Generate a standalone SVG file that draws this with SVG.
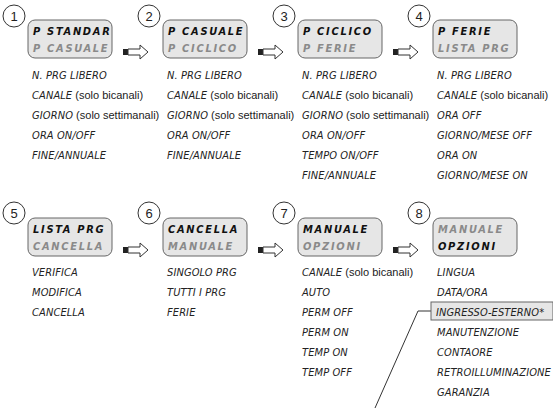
<svg xmlns="http://www.w3.org/2000/svg" width="553" height="408" viewBox="0 0 553 408">
<style>
.num{fill:#fff;stroke:#333;stroke-width:1}
.nt{font-family:"Liberation Sans",Arial,sans-serif;font-size:13px;fill:#222;text-anchor:middle}
.box{fill:#e6e6e6;stroke:#666;stroke-width:1}
.on,.off{font-family:"DejaVu Sans Condensed","DejaVu Sans",sans-serif;font-weight:bold;font-style:italic;font-size:11px;letter-spacing:1.7px}
.on{fill:#111}
.off{fill:#8a8a8a}
.it{font-family:"DejaVu Sans Condensed","DejaVu Sans",sans-serif;font-style:italic;font-size:11px;letter-spacing:0.1px;fill:#222}
.rg{font-family:"Liberation Sans",Arial,sans-serif;font-size:11px;letter-spacing:0;fill:#222}
.arr{fill:#fff;stroke:#333;stroke-width:1}
.hl{fill:#e6e6e6;stroke:#666;stroke-width:1}
.ln{fill:none;stroke:#333;stroke-width:1}
</style>
<defs>
<g id="arrow">
<rect x="0" y="-3" width="5" height="6" fill="#222"/>
<path class="arr" d="M5,-3 H17 V-7 L25,0 L17,7 V3 H5 Z"/>
</g>
</defs>
<g id="connectors">
<use href="#arrow" x="123" y="52"/>
<use href="#arrow" x="258" y="52"/>
<use href="#arrow" x="393" y="52"/>
<use href="#arrow" x="123" y="250"/>
<use href="#arrow" x="258" y="250"/>
<use href="#arrow" x="393" y="250"/>
<path class="ln" d="M431,311 H418 L375,408"/>
</g>
<g id="node1">
<rect class="box" x="28" y="20" width="84" height="38" rx="7"/>
<circle class="num" cx="14" cy="16" r="11"/>
<text class="nt" x="14" y="21">1</text>
<text class="on" x="33" y="35">P STANDAR</text>
<text class="off" x="33" y="52">P CASUALE</text>
<text class="it" x="32" y="79">N. PRG LIBERO</text>
<text x="32" y="99"><tspan class="it">CANALE</tspan><tspan class="rg"> (solo bicanali)</tspan></text>
<text x="32" y="119"><tspan class="it">GIORNO</tspan><tspan class="rg"> (solo settimanali)</tspan></text>
<text class="it" x="32" y="139">ORA ON/OFF</text>
<text class="it" x="32" y="159">FINE/ANNUALE</text>
</g>
<g id="node2">
<rect class="box" x="163" y="20" width="84" height="38" rx="7"/>
<circle class="num" cx="149" cy="16" r="11"/>
<text class="nt" x="149" y="21">2</text>
<text class="on" x="168" y="35">P CASUALE</text>
<text class="off" x="168" y="52">P CICLICO</text>
<text class="it" x="167" y="79">N. PRG LIBERO</text>
<text x="167" y="99"><tspan class="it">CANALE</tspan><tspan class="rg"> (solo bicanali)</tspan></text>
<text x="167" y="119"><tspan class="it">GIORNO</tspan><tspan class="rg"> (solo settimanali)</tspan></text>
<text class="it" x="167" y="139">ORA ON/OFF</text>
<text class="it" x="167" y="159">FINE/ANNUALE</text>
</g>
<g id="node3">
<rect class="box" x="298" y="20" width="84" height="38" rx="7"/>
<circle class="num" cx="284" cy="16" r="11"/>
<text class="nt" x="284" y="21">3</text>
<text class="on" x="303" y="35">P CICLICO</text>
<text class="off" x="303" y="52">P FERIE</text>
<text class="it" x="302" y="79">N. PRG LIBERO</text>
<text x="302" y="99"><tspan class="it">CANALE</tspan><tspan class="rg"> (solo bicanali)</tspan></text>
<text x="302" y="119"><tspan class="it">GIORNO</tspan><tspan class="rg"> (solo settimanali)</tspan></text>
<text class="it" x="302" y="139">ORA ON/OFF</text>
<text class="it" x="302" y="159">TEMPO ON/OFF</text>
<text class="it" x="302" y="179">FINE/ANNUALE</text>
</g>
<g id="node4">
<rect class="box" x="433" y="20" width="84" height="38" rx="7"/>
<circle class="num" cx="419" cy="16" r="11"/>
<text class="nt" x="419" y="21">4</text>
<text class="on" x="438" y="35">P FERIE</text>
<text class="off" x="438" y="52">LISTA PRG</text>
<text class="it" x="437" y="79">N. PRG LIBERO</text>
<text x="437" y="99"><tspan class="it">CANALE</tspan><tspan class="rg"> (solo bicanali)</tspan></text>
<text class="it" x="437" y="119">ORA OFF</text>
<text class="it" x="437" y="139">GIORNO/MESE OFF</text>
<text class="it" x="437" y="159">ORA ON</text>
<text class="it" x="437" y="179">GIORNO/MESE ON</text>
</g>
<g id="node5">
<rect class="box" x="28" y="218" width="84" height="38" rx="7"/>
<circle class="num" cx="14" cy="213" r="11"/>
<text class="nt" x="14" y="218">5</text>
<text class="on" x="33" y="233">LISTA PRG</text>
<text class="off" x="33" y="250">CANCELLA</text>
<text class="it" x="32" y="276">VERIFICA</text>
<text class="it" x="32" y="296">MODIFICA</text>
<text class="it" x="32" y="316">CANCELLA</text>
</g>
<g id="node6">
<rect class="box" x="163" y="218" width="84" height="38" rx="7"/>
<circle class="num" cx="149" cy="213" r="11"/>
<text class="nt" x="149" y="218">6</text>
<text class="on" x="168" y="233">CANCELLA</text>
<text class="off" x="168" y="250">MANUALE</text>
<text class="it" x="167" y="276">SINGOLO PRG</text>
<text class="it" x="167" y="296">TUTTI I PRG</text>
<text class="it" x="167" y="316">FERIE</text>
</g>
<g id="node7">
<rect class="box" x="298" y="218" width="84" height="38" rx="7"/>
<circle class="num" cx="284" cy="213" r="11"/>
<text class="nt" x="284" y="218">7</text>
<text class="on" x="303" y="233">MANUALE</text>
<text class="off" x="303" y="250">OPZIONI</text>
<text x="302" y="276"><tspan class="it">CANALE</tspan><tspan class="rg"> (solo bicanali)</tspan></text>
<text class="it" x="302" y="296">AUTO</text>
<text class="it" x="302" y="316">PERM OFF</text>
<text class="it" x="302" y="336">PERM ON</text>
<text class="it" x="302" y="356">TEMP ON</text>
<text class="it" x="302" y="376">TEMP OFF</text>
</g>
<g id="node8">
<rect class="box" x="433" y="218" width="84" height="38" rx="7"/>
<circle class="num" cx="419" cy="213" r="11"/>
<text class="nt" x="419" y="218">8</text>
<text class="off" x="438" y="233">MANUALE</text>
<text class="on" x="438" y="250">OPZIONI</text>
<text class="it" x="437" y="276">LINGUA</text>
<text class="it" x="437" y="296">DATA/ORA</text>
<rect class="hl" x="431" y="302" width="122" height="18"/>
<text class="it" x="436" y="316">INGRESSO-ESTERNO*</text>
<text class="it" x="437" y="336">MANUTENZIONE</text>
<text class="it" x="437" y="356">CONTAORE</text>
<text class="it" x="437" y="376" textLength="114" lengthAdjust="spacingAndGlyphs">RETROILLUMINAZIONE</text>
<text class="it" x="437" y="396">GARANZIA</text>
</g>
</svg>
